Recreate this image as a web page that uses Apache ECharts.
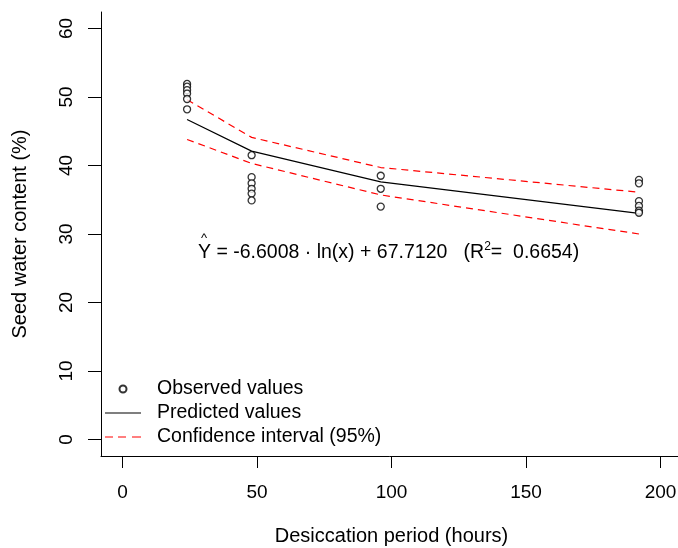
<!DOCTYPE html>
<html>
<head>
<meta charset="utf-8">
<script src="https://cdn.jsdelivr.net/npm/echarts@6/dist/echarts.min.js"></script>
<style>
  html, body { margin: 0; padding: 0; background: #fff; }
  #chart { width: 678px; height: 548px; }
</style>
</head>
<body>
<div id="chart"></div>
<script>
    // observed values (hours, seed water content %)
    var obsHours = [24, 24, 24, 24, 24, 24,
                    48, 48, 48, 48, 48, 48,
                    96, 96, 96,
                    192, 192, 192, 192, 192, 192];
    var obsWater = [51.9, 51.5, 51.0, 50.5, 49.7, 48.2,
                    41.5, 38.3, 37.4, 36.6, 35.9, 34.9,
                    38.5, 36.6, 34.0,
                    37.9, 37.4, 34.8, 34.1, 33.4, 33.1];

    // predicted line and 95% confidence band
    var predHours = [24, 48, 96, 192];
    var predWater = [46.7, 42.1, 37.6, 33.0];
    var upperCI = [49.6, 44.1, 39.7, 36.1];
    var lowerCI = [43.8, 40.3, 35.7, 30.0];

    var xTicks = [0, 50, 100, 150, 200];
    var yTicks = [0, 10, 20, 30, 40, 50, 60];

    var FONT = 'Liberation Sans, Arial, sans-serif';

    function pairs(xs, ys) {
        return xs.map(function (x, i) { return [x, ys[i]]; });
    }

    var chart = echarts.init(document.getElementById('chart'));

    var option = {
        backgroundColor: '#fff',
        animation: false,
        textStyle: { fontFamily: FONT },
        grid: { left: 101, top: 12, width: 581, height: 444, outerBoundsMode: 'none', containLabel: false },
        xAxis: {
            type: 'value',
            min: -8,
            max: 208,
            name: 'Desiccation period (hours)',
            nameLocation: 'middle',
            nameGap: 70,
            nameTextStyle: { fontSize: 20, color: '#000', fontFamily: FONT },
            axisLine: { show: true, onZero: false, lineStyle: { color: '#000', width: 1 } },
            axisTick: { show: true, length: 12, customValues: xTicks, lineStyle: { color: '#000' } },
            axisLabel: { customValues: xTicks, margin: 27, fontSize: 19, color: '#000', fontFamily: FONT },
            splitLine: { show: false }
        },
        yAxis: {
            type: 'value',
            min: -2.4,
            max: 62.4,
            name: 'Seed water content (%)',
            nameLocation: 'middle',
            nameGap: 71,
            nameRotate: 90,
            nameTextStyle: { fontSize: 20, color: '#000', fontFamily: FONT },
            axisLine: { show: true, onZero: false, lineStyle: { color: '#000', width: 1 } },
            axisTick: { show: true, length: 13, customValues: yTicks, lineStyle: { color: '#000' } },
            axisLabel: { customValues: yTicks, rotate: 90, margin: 25, fontSize: 19, color: '#000', fontFamily: FONT },
            splitLine: { show: false }
        },
        legend: {
            orient: 'vertical',
            left: 100,
            top: 374,
            itemWidth: 36,
            itemHeight: 7,
            itemGap: 4,
            textStyle: { fontSize: 19.5, color: '#000', fontFamily: FONT, padding: [0, 0, 0, 11] },
            data: [
                { name: 'Observed values', icon: 'circle' },
                { name: 'Predicted values', icon: 'path://M0,0h36v1.2h-36z', itemStyle: { color: '#000' } },
                {
                    name: 'Confidence interval (95%)',
                    icon: 'path://M0,0h8v1.2h-8zM13,0h8v1.2h-8zM27,0h9v1.2h-9z',
                    itemStyle: { color: '#ff0000' }
                }
            ]
        },
        graphic: [
            {
                type: 'text',
                left: 198,
                top: 241,
                style: {
                    text: '{t|Y = -6.6008 · ln(x) + 67.7120   (R}{s|2}{t|=  0.6654)}',
                    rich: {
                        t: { fontSize: 19.5, fontFamily: FONT, fill: '#000' },
                        s: { fontSize: 12, fontFamily: FONT, fill: '#000', padding: [0, 0, 12, 0] }
                    }
                }
            },
            {
                type: 'text',
                left: 201,
                top: 232,
                style: { text: '^', fontSize: 13, fontFamily: FONT, fill: '#000' }
            }
        ],
        series: [
            {
                name: 'Observed values',
                type: 'scatter',
                symbol: 'circle',
                symbolSize: 7,
                itemStyle: { color: '#fff', borderColor: '#000', borderWidth: 1.3 },
                data: pairs(obsHours, obsWater),
                z: 5
            },
            {
                name: 'Predicted values',
                type: 'line',
                symbol: 'none',
                lineStyle: { color: '#000', width: 1.2 },
                itemStyle: { color: '#000' },
                data: pairs(predHours, predWater)
            },
            {
                name: 'Confidence interval (95%)',
                type: 'line',
                symbol: 'none',
                lineStyle: { color: '#ff0000', width: 1.2, type: [7, 5] },
                itemStyle: { color: '#ff0000' },
                data: pairs(predHours, upperCI)
            },
            {
                name: 'Confidence interval (95%)',
                type: 'line',
                symbol: 'none',
                lineStyle: { color: '#ff0000', width: 1.2, type: [7, 5] },
                itemStyle: { color: '#ff0000' },
                data: pairs(predHours, lowerCI)
            }
        ]
    };

    option && chart.setOption(option);
</script>
</body>
</html>
